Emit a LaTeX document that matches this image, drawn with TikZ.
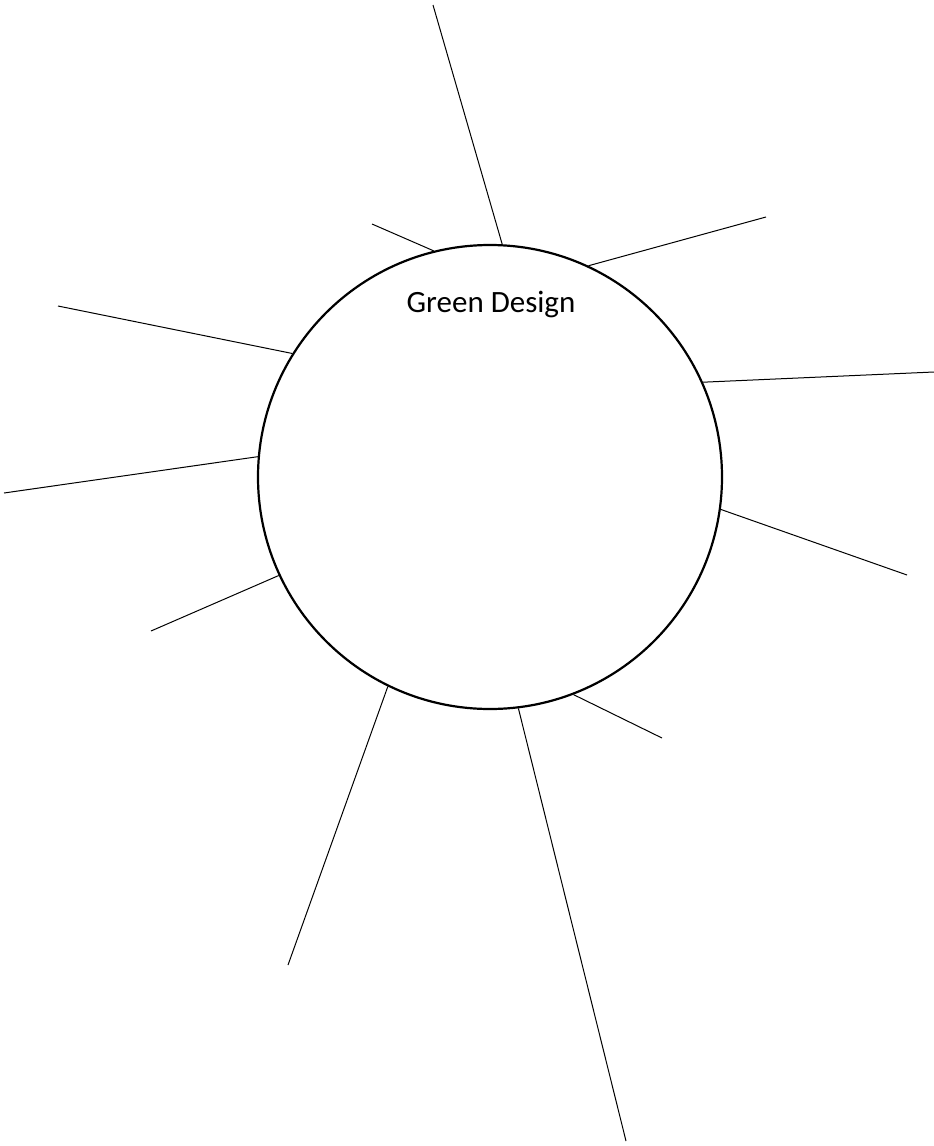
\documentclass[tikz,border=0pt]{standalone}
\usepackage{fontspec}
\setmainfont{Carlito}
\begin{document}
\begin{tikzpicture}[x=1pt,y=-1pt,
  ray/.style={draw=black,line width=1pt},
  hub/.style={circle,draw=black,line width=2.2pt,minimum size=464pt,inner sep=0pt}]
\useasboundingbox (0,0) rectangle (934,1146);
\node[hub] (c) at (490,477) {};
\node[font=\fontsize{31}{37}\selectfont,anchor=base] (t) at (491,312) {Green Design};
\coordinate (e1) at (433,5);
\coordinate (e2) at (372,224);
\coordinate (e3) at (766,217);
\coordinate (e4) at (58,306);
\coordinate (e5) at (934,372);
\coordinate (e6) at (4,493);
\coordinate (e7) at (907,575);
\coordinate (e8) at (151,631);
\coordinate (e9) at (662,738);
\coordinate (e10) at (288,965);
\coordinate (e11) at (626,1141);
\draw[ray] (c.87.5) -- (e1);
\draw[ray] (c.104.7) -- (e2);
\draw[ray] (c.65.6) -- (e3);
\draw[ray] (c.148.9) -- (e4);
\draw[ray] (c.24.8) -- (e5);
\draw[ray] (c.175.3) -- (e6);
\draw[ray] (c.-8.9) -- (e7);
\draw[ray] (c.205.6) -- (e8);
\draw[ray] (c.291.6) -- (e9);
\draw[ray] (c.244.1) -- (e10);
\draw[ray] (c.277.1) -- (e11);
\end{tikzpicture}
\end{document}
